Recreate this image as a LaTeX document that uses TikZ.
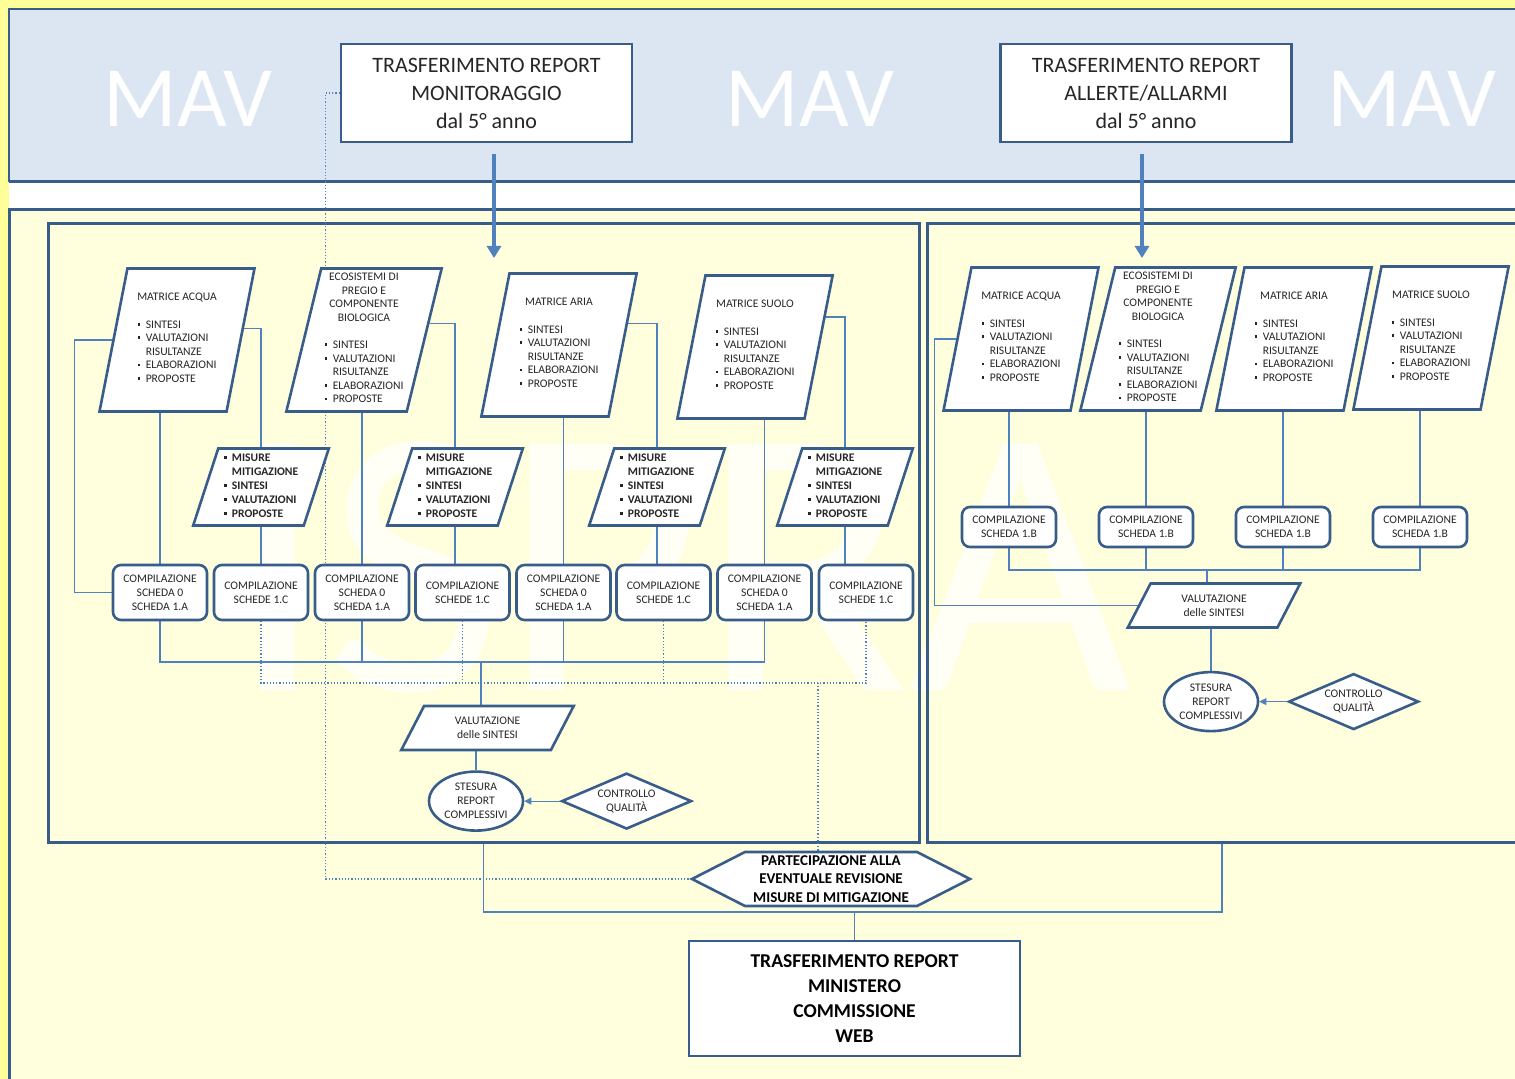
\documentclass[tikz,border=0pt]{standalone}
\usepackage{fontspec}
\setmainfont{Carlito}
\usetikzlibrary{positioning,shapes.geometric,shapes.symbols,arrows.meta,backgrounds}

\definecolor{outery}{HTML}{FFFF99}
\definecolor{bandb}{HTML}{DCE6F2}
\definecolor{paley}{HTML}{FFFFDD}
\definecolor{dkb}{HTML}{385D8A}
\definecolor{lnb}{HTML}{4F81BD}
\definecolor{txt}{HTML}{262626}

\newcommand{\bx}{\raisebox{1.3pt}{\rule{1.4pt}{1.4pt}}}
\newcommand{\elenco}{\begin{tabular}[t]{@{}l@{\hspace{2.7pt}}l@{}}\bx&SINTESI\\\bx&VALUTAZIONI\\&RISULTANZE\\\bx&ELABORAZIONI\\\bx&PROPOSTE\end{tabular}}
\newcommand{\misure}{\begin{tabular}{@{}l@{\hspace{2.7pt}}l@{}}\bx&MISURE\\&MITIGAZIONE\\\bx&SINTESI\\\bx&VALUTAZIONI\\\bx&PROPOSTE\end{tabular}}

\begin{document}
\begin{tikzpicture}[x=0.5pt,y=-0.5pt,
		topbox/.style={rectangle,draw=dkb,line width=1.3pt,fill=white,minimum width=145.5pt,minimum height=49pt,inner sep=0pt,align=center,text=txt,font=\fontsize{11}{14}\selectfont},
		matbox/.style={trapezium,trapezium left angle=76.5,trapezium right angle=103.5,trapezium stretches=true,draw=dkb,line width=1.3pt,fill=white,minimum width=78pt,minimum height=71.5pt,inner sep=0pt,align=center,text=txt,font=\fontsize{5.8}{6.8}\selectfont},
		misbox/.style={matbox,trapezium left angle=72.7,trapezium right angle=107.3,minimum width=68pt,minimum height=38.5pt,font=\fontsize{5.8}{7}\selectfont\bfseries},
		valbox/.style={matbox,trapezium left angle=61,trapezium right angle=119,minimum width=86.5pt,minimum height=22pt},
		compbox/.style={rectangle,rounded corners=4pt,draw=dkb,line width=1.3pt,fill=white,minimum width=47pt,minimum height=27.5pt,inner sep=0pt,align=center,text=txt,font=\fontsize{5.8}{7}\selectfont},
		schbox/.style={compbox,minimum height=20pt},
		stebox/.style={ellipse,draw=dkb,line width=1.3pt,fill=white,minimum width=47pt,minimum height=29.5pt,inner sep=0pt,align=center,text=txt,font=\fontsize{5.8}{7}\selectfont},
		qualbox/.style={diamond,aspect=2.3,draw=dkb,line width=1.3pt,fill=white,minimum width=65pt,minimum height=28pt,inner sep=0pt,align=center,text=txt,font=\fontsize{5.8}{7}\selectfont},
		partbox/.style={signal,signal to=west and east,signal pointer angle=54,draw=dkb,line width=1.3pt,fill=white,minimum width=139pt,minimum height=27pt,inner sep=0pt,align=center,text=black,font=\fontsize{7.5}{9.2}\selectfont\bfseries},
		endbox/.style={rectangle,draw=dkb,line width=1.3pt,fill=white,minimum width=165.5pt,minimum height=57.5pt,inner sep=0pt,align=center,text=black,font=\fontsize{9.8}{12.5}\selectfont\bfseries},
		panel/.style={rectangle,draw=dkb,line width=1.5pt,inner sep=0pt,minimum height=309pt},
		wmark/.style={text=white,inner sep=0pt,anchor=base},
		conn/.style={draw=lnb,line width=0.6pt},
		dots/.style={conn,densely dotted},
		bigarrow/.style={draw=lnb,line width=1.6pt,-{Triangle[width=7pt,length=6pt]}},
		smallarrow/.style={conn,-{Triangle[width=3.5pt,length=3.5pt]}}]
	\useasboundingbox (0,0) rectangle (1515,1079);

	\begin{pgfonlayer}{background}
		\fill[outery] (0,0) rectangle (1515,1079);
		\fill[bandb] (9,9) rectangle (1515,182);
		\fill[white] (9,182) rectangle (1515,210);
		\fill[paley] (9,210) rectangle (1515,1079);
		\draw[dkb,line width=1pt] (1515,9) -- (9,9) -- (9,182);
		\draw[dkb,line width=1.5pt] (9,182) -- (1515,182);
		\draw[dkb,line width=1.5pt] (1515,210) -- (9,210) -- (9,1079);

		\node[wmark,font=\fontsize{43}{43}\selectfont]	(mav1)	at (188,127)	{MAV};
		\node[wmark,font=\fontsize{43}{43}\selectfont]	(mav2)	at (810,127)	{MAV};
		\node[wmark,font=\fontsize{43}{43}\selectfont]	(mav3)	at (1412,127)	{MAV};
		\node[wmark,font=\fontsize{192}{192}\selectfont,opacity=0.75]	(ispra)	at (681,690)	{ISPRA};

		\node[panel,minimum width=435.5pt]	(L)	at (483.5,533)	{};
		\node[panel,minimum width=295pt]	(R)	at (1222,533)	{};
	\end{pgfonlayer}

	% top
	\node[topbox]	(T1)	at (486.5,93)	{TRASFERIMENTO REPORT\\MONITORAGGIO\\dal 5° anno};
	\node[topbox]	(T2)	at (1146,93)	{TRASFERIMENTO REPORT\\ALLERTE/ALLARMI\\dal 5° anno};
	\coordinate (a1) at (494,258);
	\coordinate (a2) at (1142,258);

	% left panel
	\node[matbox]	(P1)	at (177,340)	{MATRICE ACQUA\\[6.8pt]\elenco};
	\node[matbox]	(P2)	at (364,340)	{ECOSISTEMI DI\\PREGIO E\\COMPONENTE\\BIOLOGICA\\[6.8pt]\elenco};
	\node[matbox]	(P3)	at (559,345)	{MATRICE ARIA\\[6.8pt]\elenco};
	\node[matbox]	(P4)	at (755,347)	{MATRICE SUOLO\\[6.8pt]\elenco};

	\node[misbox]	(M1)	at (261,487)	{\misure};
	\node[misbox]	(M2)	at (455,487)	{\misure};
	\node[misbox]	(M3)	at (657,487)	{\misure};
	\node[misbox]	(M4)	at (845,487)	{\misure};

	\node[compbox]	(C1)	at (160,592.5)		{COMPILAZIONE\\SCHEDA 0\\SCHEDA 1.A};
	\node[compbox]	(C2)	at (261,592.5)		{COMPILAZIONE\\SCHEDE 1.C};
	\node[compbox]	(C3)	at (362,592.5)		{COMPILAZIONE\\SCHEDA 0\\SCHEDA 1.A};
	\node[compbox]	(C4)	at (462.5,592.5)	{COMPILAZIONE\\SCHEDE 1.C};
	\node[compbox]	(C5)	at (563.5,592.5)	{COMPILAZIONE\\SCHEDA 0\\SCHEDA 1.A};
	\node[compbox]	(C6)	at (663.5,592.5)	{COMPILAZIONE\\SCHEDE 1.C};
	\node[compbox]	(C7)	at (764.5,592.5)	{COMPILAZIONE\\SCHEDA 0\\SCHEDA 1.A};
	\node[compbox]	(C8)	at (866,592.5)		{COMPILAZIONE\\SCHEDE 1.C};

	\node[valbox]	(V1)	at (487.5,728)	{VALUTAZIONE\\delle SINTESI};
	\node[stebox,below=9.5pt of V1,xshift=-5.75pt]	(S1)	{STESURA\\REPORT\\COMPLESSIVI};
	\node[qualbox,right=18pt of S1]					(Q1)	{CONTROLLO\\QUALITÀ};

	% right panel
	\node[matbox]	(R1)	at (1021,339)	{MATRICE ACQUA\\[6.8pt]\elenco};
	\node[matbox]	(R2)	at (1158,339)	{ECOSISTEMI DI\\PREGIO E\\COMPONENTE\\BIOLOGICA\\[6.8pt]\elenco};
	\node[matbox]	(R3)	at (1294,339)	{MATRICE ARIA\\[6.8pt]\elenco};
	\node[matbox]	(R4)	at (1431,338)	{MATRICE SUOLO\\[6.8pt]\elenco};

	\node[schbox]	(B1)	at (1009,527)	{COMPILAZIONE\\SCHEDA 1.B};
	\node[schbox]	(B2)	at (1146,527)	{COMPILAZIONE\\SCHEDA 1.B};
	\node[schbox]	(B3)	at (1283,527)	{COMPILAZIONE\\SCHEDA 1.B};
	\node[schbox]	(B4)	at (1420,527)	{COMPILAZIONE\\SCHEDA 1.B};

	\node[valbox]	(V2)	at (1214,605.5)	{VALUTAZIONE\\delle SINTESI};
	\node[stebox,below=21pt of V2,xshift=-1.5pt]	(S2)	{STESURA\\REPORT\\COMPLESSIVI};
	\node[qualbox,right=14pt of S2]					(Q2)	{CONTROLLO\\QUALITÀ};

	% bottom
	\node[partbox]	(H)	at (831,879)		{PARTECIPAZIONE ALLA\\EVENTUALE REVISIONE\\MISURE DI MITIGAZIONE};
	\node[endbox]	(F)	at (854.5,998.5)	{TRASFERIMENTO REPORT\\MINISTERO\\COMMISSIONE\\WEB};

	\begin{pgfonlayer}{background}
		\draw[conn] (P1.south -| C1.north) -- (C1.north);
		\draw[conn] (P1.left side) -- ++(-38,0) |- (C1.west);
		\draw[conn] (P1.10) -| (M1.north);
		\draw[conn] (M1.south) -- (M1.south |- C2.north);
		\draw[conn] (P2.south -| C3.north) -- (C3.north);
		\draw[conn] (P2.14) -| (M2.north);
		\draw[conn] (M2.south) -- (M2.south |- C4.north);
		\draw[conn] (P3.south -| C5.north) -- (C5.north);
		\draw[conn] (P3.17) -| (M3.north);
		\draw[conn] (M3.south) -- (M3.south |- C6.north);
		\draw[conn] (P4.south -| C7.north) -- (C7.north);
		\draw[conn] (P4.23) -| (M4.north);
		\draw[conn] (M4.south) -- (M4.south |- C8.north);

		\coordinate (j1) at (481,662);
		\coordinate (j2) at (818,683);
		\draw[conn] (C1.south) |- (C7.south |- j1) -- (C7.south);
		\draw[conn] (C3.south) -- (C3.south |- j1);
		\draw[conn] (C5.south) -- (C5.south |- j1);
		\draw[conn] (j1) -- (j1 |- V1.north);
		\draw[conn] (V1.south -| S1.north) -- (S1.north);
		\draw[dots] (C2.south) |- (C8.south |- j2) -- (C8.south);
		\draw[dots] (C4.south) -- (C4.south |- j2);
		\draw[dots] (C6.south) -- (C6.south |- j2);
		\draw[dots] (j2) -- (j2 |- H.north);
		\draw[dots] (T1.west) -- ++(-14,0) |- (H.west);

		\draw[conn] (R1.south -| B1.north) -- (B1.north);
		\draw[conn] (R2.south -| B2.north) -- (B2.north);
		\draw[conn] (R3.south -| B3.north) -- (B3.north);
		\draw[conn] (R4.south -| B4.north) -- (B4.north);
		\coordinate (j4) at (1207,570);
		\draw[conn] (B1.south) |- (B4.south |- j4) -- (B4.south);
		\draw[conn] (B2.south) -- (B2.south |- j4);
		\draw[conn] (B3.south) -- (B3.south |- j4);
		\draw[conn] (j4) -- (j4 |- V2.north);
		\draw[conn] (R1.left side) -- ++(-22,0) |- (V2.left side);
		\draw[conn] (V2.south -| S2.north) -- (S2.north);

		\coordinate (j3) at (854.5,912);
		\draw[conn] (L.south) |- (j3) -| (R.south);
		\draw[conn] (j3) -- (F.north);
	\end{pgfonlayer}

	\draw[smallarrow] (Q1.west) -- (S1.east);
	\draw[smallarrow] (Q2.west) -- (S2.east);
	\draw[bigarrow,shorten <=5.5pt] (T1.south -| a1) -- (a1);
	\draw[bigarrow,shorten <=5.5pt] (T2.south -| a2) -- (a2);
\end{tikzpicture}
\end{document}
